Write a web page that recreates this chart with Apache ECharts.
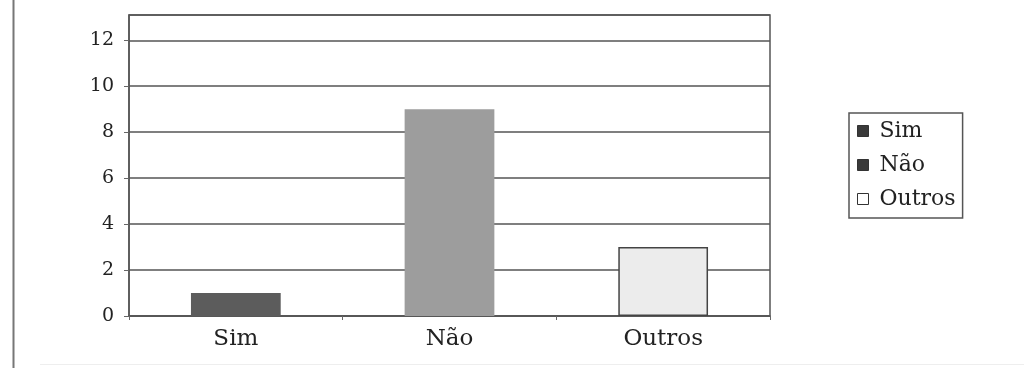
<!DOCTYPE html>
<html>
<head>
<meta charset="utf-8">
<script src="https://cdn.jsdelivr.net/npm/echarts@6/dist/echarts.min.js"></script>
<style>
  html, body { margin: 0; padding: 0; background: #fff; }
  #chart { width: 1024px; height: 368px; }
</style>
</head>
<body>
<div id="chart"></div>
<script>
// Answers grouped in three categories
const categories = ['Sim', 'Não', 'Outros'];
const counts = [1, 9, 3];
const barColors = ['#5c5c5c', '#9d9d9d', '#ececec'];
const legendSwatches = ['#3a3a3a', '#3a3a3a', '#ffffff'];

const serif = '"DejaVu Serif", "Liberation Serif", serif';

const chart = echarts.init(document.getElementById('chart'), null, { renderer: 'canvas' });

chart.setOption({
  animation: false,
  backgroundColor: '#ffffff',
  grid: { left: 129, right: 254, top: 15, bottom: 52, containLabel: false },
  xAxis: {
    type: 'category',
    data: categories,
    axisLine: { lineStyle: { color: '#555', width: 1.5 } },
    axisTick: { show: true, length: 4, lineStyle: { color: '#666' } },
    axisLabel: { color: '#222', fontFamily: serif, fontSize: 23, margin: 12 }
  },
  yAxis: {
    type: 'value',
    min: 0,
    max: 13.1,
    interval: 2,
    axisLine: { show: true, lineStyle: { color: '#555', width: 1.5 } },
    axisTick: { show: true, length: 5, lineStyle: { color: '#666' } },
    axisLabel: { color: '#222', fontFamily: serif, fontSize: 19, margin: 15, showMaxLabel: false },
    splitLine: { show: true, lineStyle: { color: '#555', width: 1.5 } }
  },
  legend: {
    show: true,
    orient: 'vertical',
    left: 849,
    top: 113,
    padding: [5, 7, 6, 8],
    itemGap: 8,
    itemWidth: 11,
    itemHeight: 11,
    borderColor: '#555',
    borderWidth: 1.5,
    backgroundColor: '#fff',
    icon: 'rect',
    textStyle: { fontFamily: serif, fontSize: 22, lineHeight: 26, color: '#222', padding: [0, 0, 0, 6] },
    data: categories.map((name, i) => ({
      name,
      itemStyle: { color: legendSwatches[i], borderColor: '#333', borderWidth: 1 }
    }))
  },
  graphic: [
    // plot frame (top and right edges)
    { type: 'rect', shape: { x: 129, y: 15, width: 641, height: 301 },
      style: { fill: 'none', stroke: '#555', lineWidth: 1.5 }, silent: true, z: 0 },
    // page border on the left and faint rule at the bottom
    { type: 'line', shape: { x1: 13.5, y1: 0, x2: 13.5, y2: 368 },
      style: { stroke: '#777', lineWidth: 2 }, silent: true },
    { type: 'line', shape: { x1: 40, y1: 364.5, x2: 1024, y2: 364.5 },
      style: { stroke: '#eee', lineWidth: 1 }, silent: true }
  ],
  series: categories.map((name, i) => ({
    name,
    type: 'bar',
    stack: 'total',
    barWidth: '42%',
    data: categories.map((c, j) => (j === i ? counts[i] : '-')),
    itemStyle: {
      color: barColors[i],
      borderColor: i === 2 ? '#444' : barColors[i],
      borderWidth: i === 2 ? 1.5 : 0
    },
    z: 3
  }))
});
</script>
</body>
</html>
